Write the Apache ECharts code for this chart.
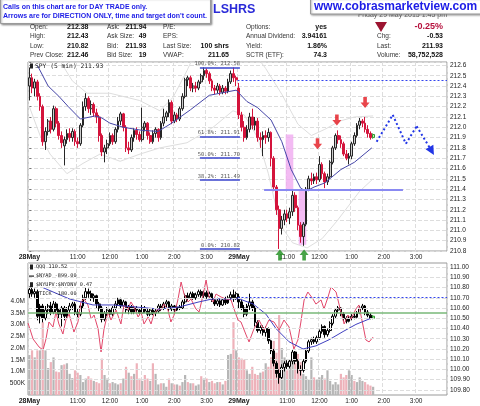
<!DOCTYPE html>
<html>
<head>
<meta charset="utf-8">
<script src="https://cdn.jsdelivr.net/npm/echarts@6/dist/echarts.min.js"></script>
<style>
  html, body { margin: 0; padding: 0; background: #fff; }
  #chart { width: 480px; height: 406px; }
</style>
</head>
<body>
<div id="chart"></div>
<script>
// sessions of 5 min bars, 9:30 .. 15:55
const sessionDays = ['28May', '29May'];
const tickIdx = [0, 18, 30, 42, 54, 66, 78, 96, 108, 120, 132, 144];
const tickText = ['28May', '11:00', '12:00', '1:00', '2:00', '3:00', '29May', '11:00', '12:00', '1:00', '2:00', '3:00'];

// SPY 5 min bars [open, close, low, high]
const spyDay1 = [
  [212.40,212.48,212.26,212.58],[212.48,212.38,212.33,212.52],[212.38,212.44,212.30,212.47],[212.44,212.30,212.26,212.46],
  [212.30,212.20,212.16,212.33],[212.20,211.86,211.82,212.22],[211.86,211.96,211.78,212.00],[211.96,212.06,211.92,212.08],
  [212.06,211.98,211.94,212.10],[211.98,212.18,211.96,212.21],[212.18,212.04,212.00,212.20],[212.04,211.92,211.88,212.06],
  [211.92,211.85,211.80,211.96],[211.82,211.88,211.63,211.91],[211.88,211.94,211.84,211.98],[211.94,211.90,211.86,211.99],
  [211.90,211.96,211.86,211.99],[211.96,211.86,211.82,211.98],[211.86,211.84,211.80,211.90],[211.84,212.02,211.82,212.04],
  [212.02,212.20,212.00,212.25],[212.20,212.28,212.16,212.33],[212.28,212.18,212.14,212.30],[212.18,212.22,212.12,212.26],
  [212.22,212.14,212.10,212.24],[212.14,212.10,212.04,212.18],[212.10,211.92,211.86,212.12],[211.92,211.76,211.72,211.94],
  [211.76,211.80,211.66,211.83],[211.80,211.84,211.74,211.88],[211.84,211.92,211.82,211.95],[211.92,211.86,211.83,211.94],
  [211.86,211.98,211.84,212.00],[211.98,212.06,211.95,212.10],[212.06,212.13,212.02,212.15],[212.13,212.00,211.96,212.14],
  [212.00,211.80,211.76,212.02],[211.80,211.78,211.74,211.86],[211.78,211.90,211.76,211.93],[211.90,211.97,211.86,211.99],
  [211.97,211.93,211.88,212.00],[211.93,211.88,211.86,211.96],[211.88,212.00,211.86,212.19],[212.00,212.04,211.96,212.06],
  [212.04,211.92,211.88,212.05],[211.92,211.86,211.84,211.95],[211.86,211.94,211.84,211.97],[211.94,211.98,211.90,212.00],
  [211.98,211.90,211.86,211.99],[211.90,212.04,211.88,212.06],[212.04,212.10,212.01,212.18],[212.10,212.14,212.06,212.16],
  [212.14,212.24,212.10,212.27],[212.24,212.06,212.03,212.26],[212.06,212.12,212.04,212.15],[212.12,212.08,212.05,212.14],
  [212.08,212.18,212.06,212.20],[212.18,212.30,212.16,212.33],[212.30,212.46,212.28,212.48],[212.46,212.48,212.40,212.50],
  [212.48,212.38,212.35,212.50],[212.38,212.40,212.34,212.43],[212.40,212.38,212.34,212.44],[212.38,212.44,212.36,212.46],
  [212.44,212.50,212.42,212.52],[212.50,212.55,212.46,212.58],[212.55,212.52,212.48,212.57],[212.52,212.45,212.42,212.54],
  [212.45,212.38,212.35,212.47],[212.38,212.36,212.32,212.41],[212.36,212.40,212.33,212.43],[212.40,212.34,212.31,212.42],
  [212.34,212.38,212.32,212.41],[212.38,212.35,212.32,212.40],[212.35,212.44,212.33,212.47],[212.44,212.52,212.42,212.55],
  [212.52,212.48,212.44,212.58],[212.48,212.46,212.40,212.50]
];
const spyDay2 = [
  [212.38,212.12,212.08,212.43],[212.12,212.00,211.96,212.15],[212.00,211.90,211.86,212.06],[211.90,211.98,211.88,212.02],
  [211.98,212.10,211.95,212.14],[212.10,212.02,211.98,212.18],[212.02,212.06,211.97,212.10],[212.06,211.90,211.86,212.09],
  [211.90,211.88,211.80,211.95],[211.88,211.92,211.72,211.96],[211.92,211.90,211.84,211.97],[211.90,211.95,211.86,211.99],
  [211.95,211.70,211.62,211.96],[211.70,211.42,211.38,211.72],[211.42,211.20,211.15,211.44],[211.20,211.02,210.82,211.24],
  [211.02,211.10,210.96,211.14],[211.10,211.16,211.05,211.20],[211.16,211.12,211.08,211.20],[211.12,211.18,211.06,211.22],
  [211.18,211.34,211.14,211.40],[211.34,211.22,211.18,211.37],[211.22,211.05,211.00,211.24],[211.05,210.94,210.88,211.08],
  [210.94,211.06,210.85,211.08],[211.06,211.40,211.04,211.42],[211.40,211.50,211.38,211.53],[211.50,211.48,211.44,211.56],
  [211.48,211.52,211.45,211.55],[211.52,211.49,211.45,211.56],[211.49,211.64,211.47,211.72],[211.64,211.55,211.50,211.66],
  [211.55,211.47,211.41,211.57],[211.47,211.52,211.44,211.55],[211.52,211.66,211.50,211.68],[211.66,211.80,211.64,211.82],
  [211.80,211.92,211.78,211.94],[211.92,211.88,211.84,211.97],[211.88,211.84,211.80,211.92],[211.84,211.74,211.72,211.86],
  [211.74,211.70,211.68,211.78],[211.70,211.72,211.64,211.75],[211.72,211.84,211.69,211.86],[211.84,211.92,211.82,211.95],
  [211.92,212.02,211.90,212.04],[212.02,212.06,211.98,212.09],[212.06,212.04,212.00,212.08],[212.04,211.98,211.95,212.10],
  [211.98,211.94,211.90,212.02],[211.94,211.90,211.88,211.96],[211.90,211.93,211.89,211.94]
];
// overlays as [bar index, price]
const spyMa = [[3,212.60],[7,212.40],[11,212.30],[14.5,212.20],[19,212.08],[24.5,212.11],[27,212.09],[30,212.04],[35,212.00],
  [42,211.97],[48,211.96],[53,212.04],[60,212.17],[67,212.31],[71,212.33],[77,212.36],[81,212.25],[85,212.19],[90,212.07],
  [94,211.86],[97.5,211.59],[101,211.41],[103,211.38],[106,211.42],[110,211.46],[116,211.59],[121,211.66],[127.5,211.80]];
const bbUpper = [[0,212.80],[11,212.66],[16,212.45],[21.5,212.33],[30,212.33],[41,212.26],[48.6,212.16],[53.5,212.29],[58.7,212.55],
  [61,212.68],[70,212.75],[80,212.75],[86,212.64],[88,212.57],[94,212.32],[100,212.03],[105,211.92],[110,211.98],[115.6,212.06],
  [121,212.10],[128,212.11]];
const bbLower = [[0,212.20],[4,211.92],[7.7,211.74],[14,211.55],[20,211.65],[26.3,211.74],[33.8,211.67],[41.2,211.74],[48.6,211.80],
  [58.7,211.85],[68.4,212.00],[75.8,212.16],[80,212.12],[85,211.90],[89,211.55],[93.3,211.06],[98,210.88],[103.4,210.83],
  [109,210.92],[114.5,211.09],[123,211.38],[128,211.50]];

// fibonacci retracement
const fibLevels = [212.58, 211.91, 211.70, 211.49, 210.82];
const fibText = ['100.0%: 212.58', '61.8%: 211.91', '50.0%: 211.70', '38.2%: 211.49', '0.0%: 210.82'];
const fibSpan = [63.5, 78.4];
const spyPrevClose = 212.46;
const supportLevel = 211.39;
const supportSpan = [87.4, 139.1];
const pinkZones = [[95.44, 211.93, 98.27, 211.39], [100.28, 211.39, 103.1, 210.86]];
const redArrows = [[107.3, 211.84], [114.5, 212.07], [125, 212.24]];
const greenArrows = [[93.3, 210.76], [102.3, 210.76]];
const zigzag = [[129.3, 211.86], [135.3, 212.12], [140.2, 211.84], [144.2, 212.01], [149.8, 211.77]];

// QQQ 5 min bars [open, close, low, high]
const qqqDay1 = [
  [110.74,110.78,110.70,110.81],[110.78,110.74,110.71,110.80],[110.74,110.76,110.70,110.79],[110.76,110.52,110.48,110.78],
  [110.52,110.62,110.45,110.64],[110.62,110.50,110.46,110.64],[110.50,110.58,110.48,110.62],[110.58,110.62,110.54,110.64],
  [110.62,110.56,110.53,110.66],[110.56,110.64,110.54,110.67],[110.64,110.58,110.55,110.66],[110.58,110.54,110.50,110.60],
  [110.54,110.60,110.42,110.62],[110.60,110.52,110.48,110.62],[110.52,110.58,110.50,110.61],[110.58,110.62,110.55,110.65],
  [110.62,110.64,110.58,110.66],[110.64,110.56,110.53,110.66],[110.56,110.54,110.51,110.59],[110.54,110.62,110.52,110.64],
  [110.62,110.70,110.60,110.73],[110.70,110.76,110.68,110.80],[110.76,110.74,110.70,110.79],[110.74,110.70,110.67,110.77],
  [110.70,110.72,110.66,110.74],[110.72,110.64,110.60,110.73],[110.64,110.60,110.57,110.66],[110.60,110.49,110.46,110.62],
  [110.49,110.55,110.47,110.57],[110.55,110.58,110.52,110.61],[110.58,110.54,110.51,110.60],[110.54,110.60,110.52,110.62],
  [110.60,110.64,110.58,110.67],[110.64,110.68,110.62,110.70],[110.68,110.62,110.60,110.70],[110.62,110.66,110.59,110.68],
  [110.66,110.58,110.55,110.67],[110.58,110.61,110.54,110.63],[110.61,110.56,110.54,110.63],[110.56,110.60,110.54,110.62],
  [110.60,110.58,110.55,110.62],[110.58,110.55,110.53,110.60],[110.55,110.60,110.54,110.63],[110.60,110.57,110.55,110.62],
  [110.57,110.54,110.52,110.59],[110.54,110.58,110.52,110.60],[110.58,110.55,110.53,110.60],[110.55,110.57,110.52,110.59],
  [110.57,110.62,110.55,110.64],[110.62,110.60,110.57,110.64],[110.60,110.64,110.58,110.66],[110.64,110.66,110.61,110.68],
  [110.66,110.59,110.57,110.67],[110.59,110.62,110.57,110.64],[110.62,110.58,110.56,110.63],[110.58,110.61,110.57,110.63],
  [110.61,110.60,110.58,110.63],[110.60,110.66,110.59,110.68],[110.66,110.72,110.64,110.74],[110.72,110.70,110.67,110.75],
  [110.70,110.74,110.68,110.76],[110.74,110.70,110.68,110.76],[110.70,110.73,110.68,110.75],[110.73,110.76,110.71,110.78],
  [110.76,110.72,110.70,110.78],[110.72,110.75,110.70,110.77],[110.75,110.71,110.69,110.77],[110.71,110.74,110.69,110.76],
  [110.74,110.68,110.66,110.75],[110.68,110.64,110.62,110.70],[110.64,110.67,110.62,110.70],[110.67,110.63,110.61,110.69],
  [110.63,110.68,110.62,110.70],[110.68,110.65,110.63,110.71],[110.65,110.70,110.64,110.72],[110.70,110.73,110.68,110.76],
  [110.73,110.70,110.66,110.78],[110.70,110.74,110.68,110.76]
];
const qqqDay2 = [
  [110.71,110.66,110.60,110.74],[110.66,110.60,110.58,110.68],[110.60,110.54,110.51,110.63],[110.54,110.62,110.52,110.64],
  [110.62,110.66,110.58,110.74],[110.66,110.60,110.57,110.68],[110.60,110.46,110.42,110.62],[110.46,110.38,110.36,110.48],
  [110.38,110.41,110.35,110.43],[110.41,110.36,110.33,110.43],[110.36,110.40,110.32,110.42],[110.40,110.28,110.25,110.41],
  [110.28,110.18,110.15,110.29],[110.18,110.06,110.03,110.20],[110.06,109.96,109.92,110.08],[109.96,109.92,109.86,110.00],
  [109.92,110.02,109.90,110.05],[110.02,110.06,109.98,110.08],[110.06,110.03,110.00,110.09],[110.03,110.08,110.01,110.10],
  [110.08,110.17,110.05,110.19],[110.17,110.08,110.05,110.18],[110.08,110.00,109.96,110.10],[110.00,109.99,109.94,110.04],
  [109.99,110.08,109.97,110.10],[110.08,110.18,110.06,110.20],[110.18,110.27,110.16,110.29],[110.27,110.29,110.24,110.31],
  [110.29,110.27,110.25,110.32],[110.27,110.31,110.25,110.33],[110.31,110.37,110.29,110.39],[110.37,110.42,110.35,110.44],
  [110.42,110.34,110.31,110.43],[110.34,110.38,110.32,110.40],[110.38,110.45,110.36,110.47],[110.45,110.52,110.43,110.54],
  [110.52,110.58,110.50,110.60],[110.58,110.60,110.55,110.62],[110.60,110.54,110.52,110.61],[110.54,110.50,110.47,110.56],
  [110.50,110.47,110.45,110.52],[110.47,110.50,110.46,110.52],[110.50,110.52,110.48,110.54],[110.52,110.51,110.49,110.55],
  [110.51,110.55,110.50,110.57],[110.55,110.60,110.54,110.62],[110.60,110.62,110.58,110.64],[110.62,110.56,110.53,110.63],
  [110.56,110.53,110.51,110.58],[110.53,110.50,110.49,110.55],[110.50,110.52,110.49,110.53]
];
// volume, millions of shares
const volDay1 = [1.7,1.9,1.6,1.9,1.9,3.1,1.9,1.15,1.4,1.6,1.0,0.97,1.27,1.3,1.35,0.9,0.72,1.05,0.95,0.85,
  0.55,0.7,0.8,0.7,0.6,0.55,0.5,1.55,0.85,0.7,0.5,0.55,0.5,0.45,0.5,0.7,1.2,0.95,0.8,0.9,
  1.35,0.7,0.6,0.85,0.7,0.6,1.35,0.9,0.45,0.5,0.5,0.35,0.7,0.5,0.45,0.45,0.4,0.55,0.85,0.55,
  0.5,0.5,0.4,0.45,0.8,0.7,0.7,0.55,0.6,0.5,0.55,0.55,0.45,0.6,1.7,1.75,3.1,1.9];
const volDay2 = [1.6,1.55,1.5,1.05,0.9,1.2,0.9,0.85,0.95,1.0,1.35,1.2,1.6,2.3,1.8,3.4,2.0,1.6,1.05,1.5,
  1.6,1.35,1.75,1.4,0.9,0.8,0.65,1.6,0.75,0.65,0.75,0.85,0.7,1.05,0.6,0.45,0.55,0.45,0.9,0.75,
  0.85,1.05,0.85,0.6,0.55,0.75,0.6,0.55,0.45,0.4,0.35];
const qqqMa = [[5,110.80],[14.8,110.69],[23.7,110.63],[31.1,110.63],[39.7,110.61],[48.3,110.59],[55.7,110.61],[63.2,110.66],
  [68.4,110.69],[78.1,110.69],[83.3,110.64],[88.1,110.54],[91.8,110.40],[96.7,110.27],[101.9,110.20],[106.7,110.23],
  [111.6,110.29],[116.8,110.37],[121.6,110.44],[127.2,110.50]];
// $NYAD overlay, percent of panel height
const nyad = [[-0.5,54.5],[1.4,42.4],[3.6,36.4],[5.1,34.1],[6.2,42.4],[7.3,55.3],[8.8,51.5],[9.9,62.9],[11,53.8],[12.5,46.2],
  [13.6,56.8],[14.8,61.4],[16.6,47.7],[18.1,55.3],[19.2,70.5],[20.3,72.7],[21.8,68.2],[23,57.6],[24.1,60.6],[25.6,50],
  [26.7,32.6],[27.8,50],[29.3,62.9],[30.4,56.8],[32.3,64.4],[34.1,53.8],[35.2,68.2],[36.7,64.4],[37.8,70.5],[39,66.7],
  [40.5,59.1],[41.6,62.9],[42.7,53.8],[44.2,59.1],[45.3,53.8],[46.4,61.4],[47.9,65.2],[49,64.4],[50.1,68.9],[51.6,64.4],
  [52.7,55.3],[53.9,60.6],[55.3,72],[56.5,85.6],[57.6,76.5],[59.1,70.5],[60.2,72.7],[62,65.2],[63.2,62.9],[64.7,75.8],
  [65.8,87.1],[66.9,74.2],[68.4,70.5],[69.5,76.5],[71.4,74.2],[73.2,72.7],[75.1,72],[76.2,65.2],[77.7,56.8],[78.8,55.3],
  [80.7,45.5],[81.8,40.2],[83.6,50],[85.5,56.8],[87.4,49.2],[89.2,56.8],[91.1,55.3],[93,49.2],[94.8,56.8],[96.7,51.5],
  [98.5,34.8],[100,41.7],[101.1,55.3],[102.3,72],[103.7,78],[105.6,72.7],[106.7,68.9],[108.6,72],[109.7,65.2],[111.2,74.2],
  [112.3,81.8],[114.2,78],[116,62.9],[117.2,53.8],[118.6,60.6],[119.8,57.6],[121.6,65.2],[122.7,68.2],[124.2,53],
  [125.3,41.7],[126.5,40.2],[128,43.9]];
const qqqPrevClose = 110.71;
const qqqGreenLevel = 110.55;
const qqqGridLevels = [109.8, 109.9, 110.0, 110.1, 110.2, 110.3, 110.4, 110.5, 110.6, 110.7, 110.8, 110.9, 111.0];

const infoRows = [
  ['Open:', '212.38', 'Ask:', '211.94', 'P/E:', '', 'Options:', 'yes', '', '-0.25%'],
  ['High:', '212.43', 'Ask Size:', '49', 'EPS:', '', 'Annual Dividend:', '3.94161', 'Chg:', '-0.53'],
  ['Low:', '210.82', 'Bid:', '211.93', 'Last Size:', '100 shrs', 'Yield:', '1.86%', 'Last:', '211.93'],
  ['Prev Close:', '212.46', 'Bid Size:', '19', 'VWAP:', '211.65', 'SCTR (ETF):', '74.3', 'Volume:', '58,752,528']
];
const topLegend = 'SPY (5 min) 211.93';
const bottomLegend = ['QQQ 110.52', '$NYAD -899.00', '$NYUPV:$NYDNV 0.47', '$TICK -180.00'];

// ---------------------------------------------------------------
const cats = [];
sessionDays.forEach(d => {
  for (let k = 0; k < 78; k++) {
    const m = 570 + 5 * k;
    cats.push(d + ' ' + Math.floor(m / 60) + ':' + String(m % 60).padStart(2, '0'));
  }
});
const spyBars = spyDay1.concat(spyDay2);
const qqqBars = qqqDay1.concat(qqqDay2);
const vols = volDay1.concat(volDay2).map(v => v * 1e6);

const spyData = spyBars.map((b, i) => i === spyBars.length - 1
  ? { value: b, itemStyle: { color: '#bff2b4', borderColor: '#2e9a2e' } } : b);
const qqqData = qqqBars.map((b, i) => i === qqqBars.length - 1
  ? { value: b, itemStyle: { color: '#bff2b4', borderColor: '#2e9a2e' } } : b);

const onStep = (v, s) => Math.abs(v / s - Math.round(v / s)) < 1e-6;
const isTick = i => tickIdx.indexOf(i) >= 0;

function catAxis(g) {
  return {
    type: 'category', gridIndex: g, data: cats, boundaryGap: true,
    axisLine: { show: false }, axisTick: { show: false },
    axisLabel: {
      interval: (i) => isTick(i), fontSize: 6.5, color: '#222', margin: 3,
      fontFamily: 'Liberation Sans',
      formatter: (v, i) => {
        const j = tickIdx.indexOf(i);
        if (j < 0) return '';
        return tickText[j].indexOf('May') > 0 ? '{b|' + tickText[j] + '}' : tickText[j];
      },
      rich: { b: { fontWeight: 'bold', fontSize: 7, color: '#222', fontFamily: 'Liberation Sans' } }
    },
    splitLine: { show: true, interval: (i) => isTick(i), lineStyle: { color: '#ddd', type: 'dashed', width: 1 } }
  };
}
function valAxis(g) {
  return { type: 'value', gridIndex: g, min: -0.5, max: 155.5, show: false };
}
const labelFont = { fontSize: 6.5, color: '#222', fontFamily: 'Liberation Sans', margin: 3 };

const graphics = [];
function txt(x, y, text, o, z) {
  graphics.push({ type: 'text', x: x, y: y, z: z || 100, style: Object.assign({
    text: text, fill: '#333', font: '6.5px "Liberation Sans"', align: 'left', verticalAlign: 'middle',
    textAlign: 'left', textVerticalAlign: 'middle'
  }, o || {}) });
}
// info table
const labelX = [30, 107, 163, 246, 377];
const valueR = [88.5, 146.5, 229, 327, 443];
const rowY = [27, 36.5, 46, 55];
infoRows.forEach((row, r) => {
  for (let c = 0; c < 5; c++) {
    if (row[2 * c]) txt(labelX[c], rowY[r], row[2 * c]);
    if (row[2 * c + 1]) {
      const big = (r === 0 && c === 4);
      txt(valueR[c], rowY[r], row[2 * c + 1], {
        fill: big ? '#b5103c' : '#111', align: 'right', textAlign: 'right',
        font: 'bold ' + (big ? '9px' : '7px') + ' "Liberation Sans"'
      });
    }
  }
});
graphics.push({ type: 'polygon', z: 100, shape: { points: [[375, 22], [387, 22], [381, 32]] }, style: { fill: '#9c1430' } });
txt(213, 10, 'LSHRS', { fill: '#2a2ad8', font: 'bold 12.5px "Liberation Sans"' });
txt(447, 15, 'Friday 29 May 2015 1:45 pm', { fill: '#666', font: '7px "Liberation Sans"', align: 'right', textAlign: 'right' });
graphics.push({ type: 'rect', z: 101, shape: { x: 0.5, y: -2, width: 210, height: 25.5 },
  style: { fill: '#fff', stroke: '#9a9a9a', lineWidth: 1, shadowBlur: 2, shadowColor: 'rgba(0,0,0,0.35)', shadowOffsetX: 1, shadowOffsetY: 1 } });
graphics.push({ type: 'rect', z: 101, shape: { x: 310.5, y: -2, width: 172, height: 16 },
  style: { fill: '#fff', stroke: '#9a9a9a', lineWidth: 1, shadowBlur: 2, shadowColor: 'rgba(0,0,0,0.35)', shadowOffsetX: 1, shadowOffsetY: 1 } });
txt(3, 7.5, 'Calls on this chart are for DAY TRADE only.', { fill: '#1c1ce6', font: 'bold 7px "Liberation Sans"' }, 102);
txt(3, 16.5, "Arrows are for DIRECTION ONLY, time and target don't count.", { fill: '#1c1ce6', font: 'bold 7px "Liberation Sans"' }, 102);
txt(314, 7, 'www.cobrasmarketview.com', { fill: '#1c1ce6', font: 'bold 12px "Liberation Sans"' }, 102);

// panel legends
graphics.push({ type: 'rect', z: 100, shape: { x: 30, y: 63.5, width: 3, height: 5 }, style: { fill: '#222' } });
txt(35, 66.5, topLegend, { fill: '#222', font: '6.3px "DejaVu Sans Mono"' });
const legY = [267, 276, 284.7, 293.5];
bottomLegend.forEach((t, k) => {
  if (k === 0 || k === 2) graphics.push({ type: 'rect', z: 100, shape: { x: 30, y: legY[k] - 2.5, width: 3, height: 5 }, style: { fill: '#222' } });
  else graphics.push({ type: 'rect', z: 100, shape: { x: 29, y: legY[k] - 0.5, width: 5, height: 1.2 }, style: { fill: '#222' } });
  txt(36, legY[k], t, { fill: '#222', font: '5.2px "DejaVu Sans Mono"' });
});

const chart = echarts.init(document.getElementById('chart'));
chart.setOption({
  animation: false,
  backgroundColor: '#fff',
  grid: [
    { left: 28, top: 62, width: 419, height: 189, show: true, borderColor: '#999', borderWidth: 1, backgroundColor: '#fff' },
    { left: 28, top: 263, width: 419, height: 132, show: true, borderColor: '#999', borderWidth: 1, backgroundColor: '#fff' }
  ],
  xAxis: [catAxis(0), valAxis(0), catAxis(1), valAxis(1)],
  yAxis: [
    { type: 'value', gridIndex: 0, position: 'right', min: 210.8, max: 212.633, interval: 0.1,
      axisLine: { show: false }, axisTick: { show: true, length: 2, lineStyle: { color: '#777' } },
      axisLabel: Object.assign({}, labelFont, { formatter: v => onStep(v, 0.1) ? v.toFixed(1) : '' }),
      splitLine: { lineStyle: { color: '#ddd', type: 'dashed' } } },
    { type: 'value', gridIndex: 1, position: 'right', min: 109.75, max: 111.04, interval: 0.05,
      axisLine: { show: false }, axisTick: { show: false }, splitLine: { show: false },
      axisLabel: Object.assign({}, labelFont, { formatter: v => (onStep(v, 0.1) && v < 111.01) ? v.toFixed(2) : '' }) },
    { type: 'value', gridIndex: 1, position: 'left', min: 0, max: 5.617e6, interval: 5e5,
      axisLine: { show: false }, axisTick: { show: false }, splitLine: { show: false },
      axisLabel: Object.assign({}, labelFont, { formatter: v => (v <= 0 || v > 4.01e6) ? '' : (v < 1e6 ? (v / 1e3) + 'K' : (v / 1e6).toFixed(1) + 'M') }) },
    { type: 'value', gridIndex: 1, min: 0, max: 100, show: false }
  ],
  series: [
    { name: 'zones', type: 'line', xAxisIndex: 1, yAxisIndex: 0, data: [], z: 1, silent: true,
      markArea: { silent: true, itemStyle: { color: 'rgba(240,170,240,0.8)' },
        data: pinkZones.map(z => [{ coord: [z[0], z[1]] }, { coord: [z[2], z[3]] }]) } },
    { name: 'bbUpper', type: 'line', xAxisIndex: 1, yAxisIndex: 0, data: bbUpper, symbol: 'none', z: 1,
      lineStyle: { color: '#dedede', width: 1 } },
    { name: 'bbLower', type: 'line', xAxisIndex: 1, yAxisIndex: 0, data: bbLower, symbol: 'none', z: 1,
      lineStyle: { color: '#dedede', width: 1 } },
    { name: 'SPY', type: 'candlestick', xAxisIndex: 0, yAxisIndex: 0, data: spyData, barWidth: '85%', z: 2,
      itemStyle: { color: '#cdcdcd', color0: '#d4143c', borderColor: '#262626', borderColor0: '#d4143c', borderWidth: 1 } },
    { name: 'SPY MA', type: 'line', xAxisIndex: 1, yAxisIndex: 0, data: spyMa, symbol: 'none', z: 3,
      lineStyle: { color: '#4646a8', width: 1 } },
    { name: 'annotations', type: 'line', xAxisIndex: 1, yAxisIndex: 0, data: [], z: 4, silent: true,
      markLine: { silent: true, symbol: 'none', animation: false,
        data: [].concat(
          fibLevels.map((lv, k) => [
            { coord: [fibSpan[0], lv], lineStyle: { color: '#3a44cc', width: 1.5, type: 'solid' },
              label: { show: true, formatter: fibText[k], position: 'insideEndTop', distance: [0, 1], color: '#555',
                fontSize: 5.4, fontFamily: 'DejaVu Sans Mono', padding: 0 } },
            { coord: [fibSpan[1], lv] }]),
          [[{ coord: [77.5, spyPrevClose], lineStyle: { color: '#3344ee', width: 1, type: [2, 2] }, label: { show: false } },
            { coord: [155.5, spyPrevClose] }]],
          [[{ coord: [supportSpan[0], supportLevel], lineStyle: { color: '#8a8af2', width: 2, type: 'solid' }, label: { show: false } },
            { coord: [supportSpan[1], supportLevel] }]],
          zigzag.slice(0, -1).map((p, k) => [
            { coord: p, symbol: 'none', lineStyle: { color: '#2236e6', width: 2, type: [2, 2.5] }, label: { show: false } },
            { coord: zigzag[k + 1], symbol: k === zigzag.length - 2 ? 'triangle' : 'none', symbolSize: [9, 9],
              symbolRotate: 210 }])
        ) } },
    { name: 'sell', type: 'scatter', xAxisIndex: 1, yAxisIndex: 0, data: redArrows, z: 5, silent: true,
      symbol: 'path://M3,0L7,0L7,6L10,6L5,12L0,6L3,6Z', symbolSize: [9, 11], itemStyle: { color: '#e3161e' } },
    { name: 'buy', type: 'scatter', xAxisIndex: 1, yAxisIndex: 0, data: greenArrows, z: 5, silent: true, clip: false,
      symbol: 'path://M5,0L10,6L7,6L7,12L3,12L3,6L0,6Z', symbolSize: [9, 11], itemStyle: { color: '#1a8c1a' } },

    // lower panel
    { name: 'grid lines', type: 'line', xAxisIndex: 3, yAxisIndex: 1, data: [], z: 1, silent: true,
      markLine: { silent: true, symbol: 'none', label: { show: false },
        lineStyle: { color: '#ddd', type: 'dashed', width: 1 },
        data: qqqGridLevels.map(v => ({ yAxis: v })) } },
    { name: 'Volume', type: 'bar', xAxisIndex: 2, yAxisIndex: 2, data: vols, barWidth: '82%', z: 1,
      itemStyle: { color: p => (qqqBars[p.dataIndex][1] < qqqBars[p.dataIndex][0]) ? '#eeb2ba' : '#b6b6b6' } },
    { name: 'QQQ', type: 'candlestick', xAxisIndex: 2, yAxisIndex: 1, data: qqqData, barWidth: '85%', z: 3,
      itemStyle: { color: '#ffffff', color0: '#000000', borderColor: '#000', borderColor0: '#000', borderWidth: 1 } },
    { name: '$NYAD', type: 'line', xAxisIndex: 3, yAxisIndex: 3, data: nyad, symbol: 'none', z: 4,
      lineStyle: { color: '#e2476a', width: 1 } },
    { name: 'QQQ MA', type: 'line', xAxisIndex: 3, yAxisIndex: 1, data: qqqMa, symbol: 'none', z: 4,
      lineStyle: { color: '#4040c0', width: 1 },
      markLine: { silent: true, symbol: 'none', label: { show: false },
        data: [
          { yAxis: qqqGreenLevel, lineStyle: { color: '#78b878', width: 1.5, type: 'solid' } },
          [{ coord: [77.5, qqqPrevClose], lineStyle: { color: '#3344ee', width: 1, type: [2, 2] } }, { coord: [155.5, qqqPrevClose] }]
        ] } }
  ],
  graphic: { elements: graphics }
});
</script>
</body>
</html>
